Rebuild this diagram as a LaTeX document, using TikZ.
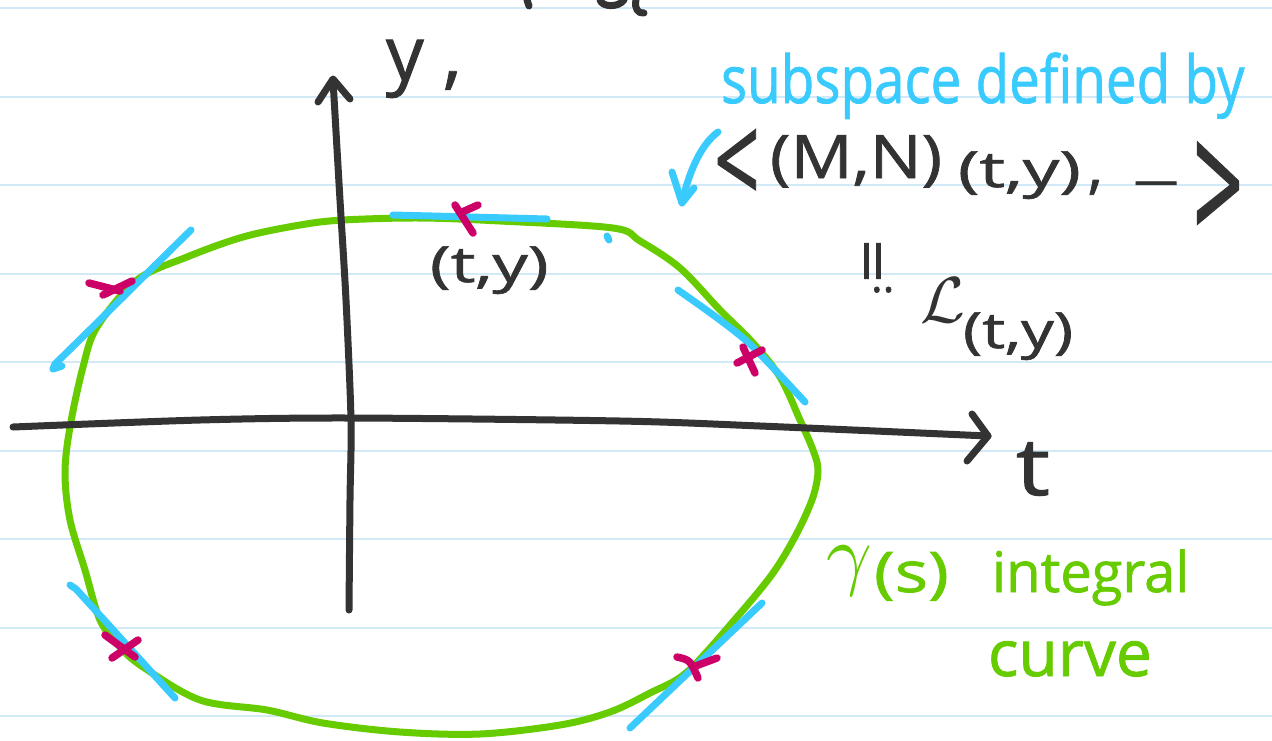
\documentclass[tikz,border=0pt]{standalone}
\usepackage{fontspec}
\setmainfont{Open Sans}[FakeBold=1.2]
\usepackage{graphicx}
\definecolor{ink}{HTML}{333333}
\definecolor{sky}{HTML}{3ACBFE}
\definecolor{leaf}{HTML}{66CC00}
\definecolor{rose}{HTML}{CC0066}
\definecolor{ruleblue}{HTML}{D2EAF8}
\newcommand{\hsz}[1]{\fontsize{#1}{#1}\selectfont}
\begin{document}
\begin{tikzpicture}[x=1pt,y=-1pt,
  pen/.style={line width=7pt, line cap=round, line join=round},
  inkpen/.style={pen, draw=ink},
  skypen/.style={pen, draw=sky},
  leafpen/.style={pen, draw=leaf},
  rosepen/.style={pen, draw=rose, line width=7.5pt},
  ruling/.style={draw=ruleblue, line width=2pt},
  txt/.style={inner sep=0pt, outer sep=0pt, anchor=base west},
  ctxt/.style={inner sep=0pt, outer sep=0pt, anchor=center}]
\useasboundingbox (0,0) rectangle (1272,740);
\fill[white] (0,0) rectangle (1272,740);
% ruled paper
\foreach \yy in {8,96.5,185,273.5,362,450.5,539,627.5,716}
  \draw[ruling] (0,\yy) -- (1272,\yy);
% fragments of the previous line
\draw[inkpen] (527,0) -- (529,6);
\draw[inkpen] (600,0) .. controls (602,7) and (618,8) .. (624,0);
\draw[inkpen] (636,0) .. controls (634,8) and (638,14) .. (644,13);
% integral curve
\draw[leafpen] plot[smooth cycle, tension=0.55] coordinates {(343,220) (420,218) (500,221) (613,228) (640,241) (680,268) (720,310) (753,343) (780,377) (800,420) (813,450) (818,470) (813,497) (797,533) (773,573) (737,617) (687,672) (650,693) (610,712) (560,725) (480,734) (400,732) (323,723) (267,710) (200,700) (143,667) (120,647) (100,620) (85,570) (70,520) (65,473) (70,427) (83,367) (97,327) (137,280) (187,257) (243,237) (300,225)};
% axes
\draw[inkpen] plot[smooth] coordinates {(349,610) (350,500) (351,420) (346,300) (340,200) (333,80)};
\draw[inkpen] (318,102) -- (333,79) -- (350,99);
\draw[inkpen] plot[smooth] coordinates {(13,427) (200,420) (350,418) (620,421) (760,426) (988,436)};
\draw[inkpen] (972,414) -- (988,436) -- (967,461);
% tangent lines
\draw[skypen] (191,230) .. controls (140,280) and (90,330) .. (55,364) -- (53,369) -- (62,366);
\draw[skypen] (393,215) -- (547,219);
\draw[skypen] (607,236) -- (609,240);
\draw[skypen] plot[smooth] coordinates {(678,290) (720,320) (753,347) (805,402)};
\draw[skypen] (70,585) -- (76,589) -- (175,698);
\draw[skypen] (630,728) -- (762,603);
% marked points
\draw[rosepen] (89,283) -- (120,291);
\draw[rosepen] (103,295) -- (132,281);
\draw[rosepen] (455,205) -- (473,233);
\draw[rosepen] (460,213) -- (478,205);
\draw[rosepen] (737,363) -- (762,350);
\draw[rosepen] (743,347) -- (755,373);
\draw[rosepen] (105,635) -- (135,657);
\draw[rosepen] (112,658) -- (138,640);
\draw[rosepen] (677,657) .. controls (690,660) .. (698,678);
\draw[rosepen] (693,667) -- (717,658);
% blue arrow
\draw[skypen] (718,132) .. controls (700,145) and (688,175) .. (682,203);
\draw[skypen] (672,172) -- (682,203) -- (694,188);
% labels
\node[txt, text=ink] (ylab) at (386,80) {\hsz{75}y ,};
\node[txt, text=ink] (tlab) at (1016,495) {\hsz{80}\scalebox{1.2}[1]{t}};
\node[txt, text=ink] (pt) at (430,282) {\hsz{50}\scalebox{1.4}[1]{(t,y)}};
\node[txt, text=sky] (sub) at (721,103) {\hsz{66}\scalebox{0.83}[1]{subspace defined by}};
\node[ctxt, text=ink] (lt) at (737,167) {\hsz{80}\scalebox{1.0}[1.55]{<}};
\node[txt, text=ink] (mn) at (770,178) {\hsz{60}\scalebox{1.15}[1]{(M,N)}};
\node[txt, text=ink] (ty) at (958,187) {\hsz{50}\scalebox{1.45}[1]{(t,y)}};
\node[txt, text=ink] (cm) at (1088,187) {\hsz{60},};
\node[txt, text=ink] (dash) at (1134,195) {\hsz{44}—};
\node[ctxt, text=ink] (gt) at (1218,193) {\hsz{80}\scalebox{1.1}[2.1]{>}};
\node[ctxt, text=ink, rotate=90] (eq) at (879,261) {\hsz{60}\scalebox{1.3}[1]{=}};
\node[txt, text=ink] (eqdots) at (871,292) {\hsz{44}..};
\node[txt, text=ink] (L) at (920,322) {\scalebox{6.5}{$\mathcal{L}$}};
\node[txt, text=ink] (Lty) at (963,348) {\hsz{50}\scalebox{1.3}[1]{(t,y)}};
\node[txt, text=leaf] (gam) at (826,580) {\scalebox{8}{$\gamma$}};
\node[txt, text=leaf] (gams) at (874,592) {\hsz{56}\scalebox{1.25}[1]{(s)}};
\node[txt, text=leaf] (intg) at (992,592) {\hsz{56}integral};
\node[txt, text=leaf] (crv) at (988,676) {\hsz{64}curve};
\end{tikzpicture}
\end{document}
